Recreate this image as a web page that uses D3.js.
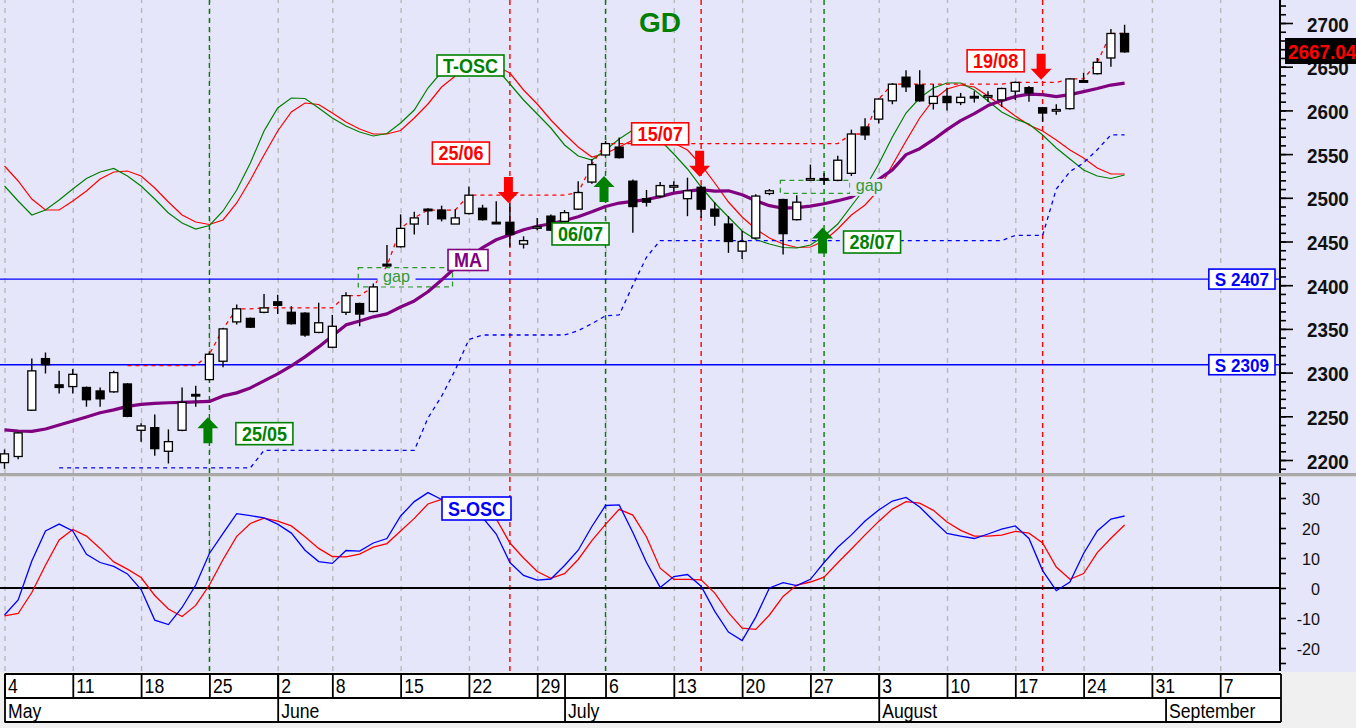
<!doctype html>
<html>
<head>
<meta charset="utf-8">
<style>
  body { margin: 0; background: #f0f0f0; }
  svg { display: block; font-family: "Liberation Sans", Arial, sans-serif; }
</style>
<script src="https://cdn.jsdelivr.net/npm/d3@7/dist/d3.min.js"></script>
</head>
<body>
<script>
// ---- data (trading days from 4 May, index 0) ----
var tickDays   = [0, 5, 10, 15, 20, 24, 29, 34, 39, 44, 49, 54, 59, 64, 69, 74, 79, 84, 89];
var tickLabels = ["4","11","18","25","2","8","15","22","29","6","13","20","27","3","10","17","24","31","7"];
var monthStart = [0, 20, 41, 64, 85];
var monthNames = ["May", "June", "July", "August", "September"];

var open = [2197,2204,2257,2316,2286,2284,2283,2279,2278,2287,
            2234,2237,2210,2234,2275,2292,2313,2358,2362,2369,
            2381,2369,2368,2346,2329,2369,2379,2370,2424,2444,
            2470,2487,2486,2470,2482,2488,2472,2472,2447,2466,
            2479,2473,2487,2518,2549,2558,2519,2499,2502,2514,
            2499,2512,2487,2470,2439,2454,2505,2498,2475,2521,
            2522,2520,2528,2581,2590,2611,2638,2629,2608,2616,
            2609,2616,2616,2612,2622,2626,2603,2600,2602,2634,
            2642,2660,2688];
var high = [2212,2232,2316,2323,2302,2304,2284,2283,2302,2288,
            2242,2252,2235,2283,2285,2323,2351,2378,2363,2390,
            2389,2376,2369,2380,2366,2392,2380,2402,2446,2481,
            2484,2488,2491,2487,2513,2492,2496,2494,2456,2477,
            2481,2486,2519,2544,2565,2569,2521,2509,2518,2519,
            2523,2514,2495,2479,2462,2504,2510,2499,2503,2538,
            2528,2548,2578,2591,2614,2631,2646,2646,2630,2626,
            2620,2622,2622,2626,2633,2628,2604,2607,2637,2643,
            2660,2693,2698];
var low  = [2190,2201,2256,2299,2276,2276,2261,2261,2277,2249,
            2221,2205,2196,2233,2261,2291,2306,2355,2351,2368,
            2367,2355,2341,2345,2328,2366,2353,2369,2421,2443,
            2458,2469,2473,2470,2481,2474,2470,2444,2442,2463,
            2462,2472,2486,2516,2548,2545,2460,2490,2500,2507,
            2479,2477,2468,2437,2430,2453,2503,2435,2474,2520,
            2515,2519,2525,2566,2585,2607,2621,2610,2601,2600,
            2606,2609,2610,2604,2612,2610,2587,2595,2601,2633,
            2641,2650,2666];
var close = [2207,2231,2302,2309,2283,2298,2269,2270,2300,2250,
            2239,2213,2221,2266,2274,2321,2350,2373,2352,2374,
            2377,2356,2343,2357,2353,2388,2367,2398,2422,2465,
            2477,2486,2476,2477,2503,2475,2471,2458,2451,2467,
            2463,2483,2506,2538,2562,2546,2490,2495,2514,2514,
            2508,2487,2479,2450,2450,2502,2508,2459,2495,2522,
            2521,2543,2573,2572,2613,2630,2627,2611,2616,2609,
            2615,2615,2617,2625,2632,2620,2597,2601,2636,2633,
            2655,2688,2667.04];

var ma = [2234.4,2233.2,2232.7,2235.5,2240,2244.7,2249.3,2254,2257.3,2261.3,
          2263.6,2264.7,2265.5,2266,2266.4,2267,2273.3,2276.8,2282.5,2290.5,
          2298.5,2307.7,2318,2329.4,2342,2354.6,2359,2363.8,2367.2,2375,
          2382,2392.5,2406,2420,2431.5,2443,2452,2457.7,2463.5,2467.5,
          2470.3,2474,2478.4,2484,2490,2494,2496,2498,2501.3,2505.3,
          2507.6,2509.3,2507.6,2508,2503.5,2496.7,2491,2488.1,2488.7,2490.4,
          2493.2,2496.7,2500.7,2510.4,2521,2532,2549.4,2556.2,2566.5,2578,
          2588.3,2596.3,2605.5,2611.2,2615.8,2618.7,2618,2615.8,2618,2621.5,
          2625,2629,2631.3];

// T-OSC (overlay on price panel, own scale)
var toscFast = [-26,-41,-55,-50,-40,-29,-18.5,-12,-8.5,-16,
                -26,-39,-53,-63,-69,-65.5,-51,-30,-3,29,
                52,62,61.5,52,42,34,28,24,26.5,37,
                50,72,88,98,102,100,92,76,60,46,
                32,15,4,0,10,21,30,29,20,6,
                -9,-27,-43,-57,-71,-79.5,-84,-87.5,-88,-85,
                -76,-64,-46,-28,-4,23,47,62,72,77,
                77,70,59,48,41,36,25,12,1,-10,
                -16,-18.5,-15];
var toscSlow = [-6,-21,-39,-50,-50,-41,-31,-19,-12,-11,
                -16,-28,-42,-55,-62,-64.5,-60,-43,-20,5,
                29,48,57,55.5,47,38,31,26,26,29.5,
                42,56,73,84,92,96,94,87,70,56,
                40,26,13,3,6.5,13,20,23,22,17,
                10,-5,-23,-42,-57,-69,-78,-84,-87.5,-87,
                -81,-69,-55,-45,-30,-5,19,42,60,71,
                75,73,64,54,44,35,29,20,10,2,
                -8,-14,-14];

// S-OSC (lower panel)
var soscFast = [-9,-4,9,19,21.3,19,11.2,8.5,7.2,4.7,
                -0.5,-10.7,-12.2,-6.5,1,11.5,18.2,24.8,24.1,23.4,
                21.3,18.3,12.6,8.8,8.2,12.5,12.3,15,16.5,24,
                28.8,31.8,29.5,27.5,25.5,23.5,18,8.5,4.2,2.6,
                3,7.5,12.6,20.5,27.5,27.7,18.5,8.5,0.2,3.8,
                4.5,0.6,-7.8,-14.7,-17.5,-9.7,0,1.8,0.8,2.9,
                8.5,13.6,17.7,22.3,26,29,30.2,27,22.5,18.2,
                17.3,16.5,18,19.6,20.7,16.5,5.8,-0.9,2,11.5,
                19,23,24];
var soscSlow = [-9.3,-8.5,-1.5,7.6,16,19.5,17.3,13.2,8.7,6.3,
                3.5,-2.5,-7,-9.5,-5.8,1,9.5,17.2,21.5,23.3,
                22.3,20.7,17.1,13.2,10.5,10.4,11.3,13.6,14.8,19,
                23.2,28,29.5,29,27.5,25.5,23,15,10,5.5,
                3.2,4.8,9.5,15.8,21.2,26.2,24.3,17,6.6,2.9,
                2.9,2.7,-1.7,-8.2,-13.4,-13.8,-9,-2.8,1,2,
                3.6,8.4,13,17.7,22.2,26.3,28.8,28.3,25.9,22,
                19.2,17.3,17.3,17.6,18.9,18.3,15,7,2.9,4.8,
                11.8,16.6,21];

// trailing support (blue dashed) and resistance (red dashed)
var support = [null,null,null,null,2191,2191,2191,2191,2191,2191,
               2191,2191,2191,2191,2191,2191,2191,2191,2191,2211,
               2211,2211,2211,2211,2211,2211,2211,2211,2211,2211,
               2211,2248,2273,2303,2338,2343,2343,2343,2343,2343,
               2343,2343,2348,2356,2365,2366,2400,2432,2451,2451,
               2451,2451,2451,2451,2451,2451,2451,2451,2451,2451,
               2451,2451,2451,2451,2451,2451,2451,2451,2451,2451,
               2451,2451,2451,2451,2457,2457,2457,2510,2530,2540,
               2555,2572,2572];
var resistance = [null,null,null,null,null,null,null,null,null,2308,
                  2308,2308,2308,2308,2308,2321,2350,2373,2373,2374,
                  2374,2374,2374,2374,2374,2388,2388,2398,2422,2465,
                  2477,2486,2486,2486,2503,2503,2503,2503,2503,2503,
                  2503,2503,2506,2538,2562,2562,2562,2562,2562,2562,
                  2562,2562,2562,2562,2562,2562,2562,2562,2562,2562,
                  2562,2562,2573,2573,2613,2630,2630,2630,2630,2630,
                  2630,2630,2630,2630,2632,2632,2632,2632,2636,2636,
                  2655,2688,2688];

var levels = [2407, 2309];
var lastPrice = 2667.04;

var signals = [
  {day: 15, kind: "buy",  text: "25/05"},
  {day: 37, kind: "sell", text: "25/06"},
  {day: 44, kind: "buy",  text: "06/07"},
  {day: 51, kind: "sell", text: "15/07"},
  {day: 60, kind: "buy",  text: "28/07"},
  {day: 76, kind: "sell", text: "19/08"}
];
var gaps = [
  {from: 25.9, to: 32.8, lo: 2398, hi: 2420, labelDay: 28.7},
  {from: 56.8, to: 61.9, lo: 2505, hi: 2520, labelDay: 63.3}
];

// ---- layout ----
var W = 1356, H = 728;
var axisX = 1280;
var mainBot = 473, lowTop = 477, lowBot = 671;
var BG = "#e6e6fa";
var GREEN = "#008000", RED = "#ff0000", BLUE = "#0000ff", PURPLE = "#800080";

// arrow tip level and label offset (px from arrow tip) for each signal
var arrowTip = [2249, 2494, 2525, 2524, 2466, 2635];
var labelOff = [[55, 16.5], [-49, -50], [-25, 58], [-41, -43], [48, 14.5], [-47, -19]];

var x  = d3.scaleLinear().domain([0, 89]).range([4.5, 1220.2]);
var yP = d3.scaleLinear().domain([2200, 2700]).range([460, 23]);
var yT = d3.scaleLinear().domain([-100, 100]).range([260, 60]);
var yS = d3.scaleLinear().domain([-20, 30]).range([648, 498]);

var days = d3.range(close.length);

var svg = d3.select("body").append("svg")
  .attr("width", W).attr("height", H);

svg.append("rect").attr("width", W).attr("height", H).attr("fill", "#f0f0f0");
svg.append("rect").attr("width", W).attr("height", lowBot + 1).attr("fill", BG);

var defs = svg.append("defs");
defs.append("clipPath").attr("id", "clipMain").append("rect")
  .attr("x", 0).attr("y", 0).attr("width", axisX).attr("height", mainBot);
defs.append("clipPath").attr("id", "clipLow").append("rect")
  .attr("x", 0).attr("y", lowTop).attr("width", axisX).attr("height", lowBot - lowTop);
defs.append("clipPath").attr("id", "clipAxMain").append("rect")
  .attr("x", -2).attr("y", 0).attr("width", 80).attr("height", mainBot);

// squeeze text horizontally (the reference type is a bit narrow)
function squeeze(sel, k) {
  sel.each(function() {
    var t = d3.select(this);
    var tx = +t.attr("x") || 0, ty = +t.attr("y") || 0;
    t.attr("x", 0).attr("y", 0).attr("dy", null)
      .attr("transform", "translate(" + tx + "," + ty + ") scale(" + k + ",1)");
  });
}

function boxLabel(parent, cx, cy, txt, color, size, h) {
  var g = parent.append("g");
  var rect = g.append("rect");
  var t = g.append("text")
    .attr("text-anchor", "middle")
    .attr("font-weight", "bold")
    .attr("font-size", size)
    .attr("fill", color)
    .attr("x", cx).attr("y", cy + size * 0.36)
    .text(txt);
  squeeze(t, 0.9);
  var w = t.node().getComputedTextLength() * 0.9 + 12;
  rect.attr("x", cx - w / 2).attr("y", cy - h / 2)
    .attr("width", w).attr("height", h)
    .attr("fill", "#fff").attr("stroke", color).attr("stroke-width", 1.6);
  return g;
}

// ---- gridlines (both panels) ----
function grid(g, top, bot) {
  g.append("g").attr("transform", "translate(0," + bot + ")")
    .call(d3.axisBottom(x).tickValues(tickDays).tickSize(-(bot - top)).tickFormat(""))
    .call(function(s) { s.select(".domain").remove(); })
    .selectAll("line")
    .attr("stroke", "#b8b8b8").attr("stroke-width", 1.4).attr("stroke-dasharray", "5,5");
}
function signalLines(g, top, bot) {
  g.selectAll("line.sig").data(signals).join("line")
    .attr("class", "sig")
    .attr("x1", function(d) { return x(d.day); }).attr("x2", function(d) { return x(d.day); })
    .attr("y1", top).attr("y2", bot)
    .attr("stroke", function(d) { return d.kind === "buy" ? GREEN : RED; })
    .attr("stroke-width", 1.4).attr("stroke-dasharray", "5,4");
}

var main = svg.append("g").attr("clip-path", "url(#clipMain)");
var lower = svg.append("g").attr("clip-path", "url(#clipLow)");

grid(main, 0, mainBot);
grid(lower, lowTop, lowBot);
signalLines(main, 0, mainBot);
signalLines(lower, lowTop, lowBot);

// support / resistance levels
main.selectAll("line.lvl").data(levels).join("line")
  .attr("class", "lvl")
  .attr("x1", 0).attr("x2", axisX)
  .attr("y1", function(d) { return yP(d); }).attr("y2", function(d) { return yP(d); })
  .attr("stroke", BLUE).attr("stroke-width", 1.3);

function path(arr, ys) {
  return d3.line()
    .defined(function(i) { return arr[i] != null; })
    .x(function(i) { return x(i); })
    .y(function(i) { return ys(arr[i]); })(days);
}

// T-OSC
main.append("path").attr("d", path(toscSlow, yT)).attr("fill", "none").attr("stroke", RED).attr("stroke-width", 1.2);
main.append("path").attr("d", path(toscFast, yT)).attr("fill", "none").attr("stroke", GREEN).attr("stroke-width", 1.2);

// trailing lines
main.append("path").attr("d", path(support, yP)).attr("fill", "none")
  .attr("stroke", BLUE).attr("stroke-width", 1.3).attr("stroke-dasharray", "4,4");
main.append("path").attr("d", path(resistance, yP)).attr("fill", "none")
  .attr("stroke", RED).attr("stroke-width", 1.3).attr("stroke-dasharray", "4,4");

// gap zones
main.selectAll("rect.gap").data(gaps).join("rect")
  .attr("class", "gap")
  .attr("x", function(d) { return x(d.from); })
  .attr("width", function(d) { return x(d.to) - x(d.from); })
  .attr("y", function(d) { return yP(d.hi); })
  .attr("height", function(d) { return yP(d.lo) - yP(d.hi); })
  .attr("fill", "none").attr("stroke", "#2e9a2e").attr("stroke-width", 1.3).attr("stroke-dasharray", "5,4");

// moving average
main.append("path").attr("d", path(ma, yP)).attr("fill", "none")
  .attr("stroke", PURPLE).attr("stroke-width", 3.2).attr("stroke-linejoin", "round");

// gap labels (background hides lines behind)
gaps.forEach(function(d) {
  var cx = x(d.labelDay), cy = (yP(d.hi) + yP(d.lo)) / 2;
  main.append("rect").attr("x", cx - 19).attr("y", cy - 8).attr("width", 38).attr("height", 17).attr("fill", BG);
  var t = main.append("text").attr("x", cx).attr("y", cy + 4.5)
    .attr("text-anchor", "middle").attr("font-size", 17).attr("fill", "#339933").text("gap");
  squeeze(t, 0.95);
});

// candles
var gC = main.append("g");
gC.selectAll("line").data(days).join("line")
  .attr("x1", function(i) { return x(i); }).attr("x2", function(i) { return x(i); })
  .attr("y1", function(i) { return yP(high[i]); }).attr("y2", function(i) { return yP(low[i]); })
  .attr("stroke", "#000").attr("stroke-width", 1.4);
gC.selectAll("rect").data(days).join("rect")
  .attr("x", function(i) { return x(i) - 4; }).attr("width", 8)
  .attr("y", function(i) { return yP(Math.max(open[i], close[i])); })
  .attr("height", function(i) { return Math.max(1.6, Math.abs(yP(open[i]) - yP(close[i]))); })
  .attr("fill", function(i) { return close[i] >= open[i] ? "#fff" : "#000"; })
  .attr("stroke", "#000").attr("stroke-width", 1.3);

// signal arrows + date labels
signals.forEach(function(s, k) {
  var cx = x(s.day) - 1.5, ty = yP(arrowTip[k]);
  var dir = s.kind === "buy" ? 1 : -1;   // buy: tip at top, body below
  var hw = 10.5, sw = 4.5, hh = 11 * dir, len = 26 * dir;
  var p = d3.path();
  p.moveTo(cx, ty);
  p.lineTo(cx + hw, ty + hh); p.lineTo(cx + sw, ty + hh); p.lineTo(cx + sw, ty + len);
  p.lineTo(cx - sw, ty + len); p.lineTo(cx - sw, ty + hh); p.lineTo(cx - hw, ty + hh);
  p.closePath();
  var col = s.kind === "buy" ? GREEN : RED;
  main.append("path").attr("d", p.toString()).attr("fill", col);
  boxLabel(main, cx + 1.5 + labelOff[k][0], ty + labelOff[k][1], s.text, col, 20, 22);
});

// indicator labels
boxLabel(main, 470.5, 65.5, "T-OSC", GREEN, 20, 21);
boxLabel(main, 468, 260, "MA", PURPLE, 20, 21);

// level labels
levels.forEach(function(v) {
  var g = boxLabel(svg, 0, yP(v), "S " + v, BLUE, 19, 20);
  var r = g.select("rect"), w = +r.attr("width");
  g.attr("transform", "translate(" + (1275 - w / 2) + ",0)");
});

// title
svg.append("text").attr("x", 660).attr("y", 32).attr("text-anchor", "middle")
  .attr("font-size", 28).attr("font-weight", "bold").attr("fill", GREEN).text("GD");

// ---- lower panel ----
lower.append("line").attr("x1", 0).attr("x2", axisX)
  .attr("y1", yS(0)).attr("y2", yS(0)).attr("stroke", "#000").attr("stroke-width", 2);
lower.append("path").attr("d", path(soscSlow, yS)).attr("fill", "none").attr("stroke", RED).attr("stroke-width", 1.3);
lower.append("path").attr("d", path(soscFast, yS)).attr("fill", "none").attr("stroke", BLUE).attr("stroke-width", 1.3);
boxLabel(lower, 476.5, 508.5, "S-OSC", BLUE, 20, 23);

// panel separator
svg.append("rect").attr("x", 0).attr("y", mainBot).attr("width", W).attr("height", 3).attr("fill", "#a9a9a9");
svg.append("line").attr("x1", 0).attr("x2", W).attr("y1", mainBot + 3.5).attr("y2", mainBot + 3.5)
  .attr("stroke", "#d8d8d8").attr("stroke-width", 1);

// ---- right axes ----
var gAx = svg.append("g").attr("transform", "translate(" + axisX + ",0)");
var gTicks = gAx.append("g").attr("clip-path", "url(#clipAxMain)");
gTicks.append("g").call(d3.axisRight(yP).tickValues(d3.range(2190, 2730, 10)).tickSize(6).tickFormat(""));
gTicks.append("g").call(d3.axisRight(yP).tickValues(d3.range(2200, 2701, 50)).tickSize(13).tickFormat(""));
var gMajorLab = gAx.append("g")
  .call(d3.axisRight(yP).tickValues(d3.range(2200, 2701, 50)).tickSize(0).tickPadding(27)
    .tickFormat(function(d) { return String(d); }));
gMajorLab.attr("font-size", 20).attr("font-weight", "bold").attr("font-family", null);
gMajorLab.selectAll("text").attr("fill", "#111").attr("y", 8);
squeeze(gMajorLab.selectAll("text"), 0.94);

var gLowAx = svg.append("g").attr("transform", "translate(" + axisX + ",0)");
gLowAx.append("g").call(d3.axisRight(yS).tickValues(d3.range(-25, 36, 5)).tickSize(6).tickFormat(""));
var gLowLab = gLowAx.append("g")
  .call(d3.axisRight(yS).tickValues(d3.range(-20, 31, 10)).tickSize(0).tickPadding(0)
    .tickFormat(function(d) { return String(d); }));
gLowLab.attr("font-size", 17).attr("font-family", null);
gLowLab.selectAll("text").attr("x", 40).attr("text-anchor", "end").attr("fill", "#111").attr("y", 6);
squeeze(gLowLab.selectAll("text"), 0.95);

[gAx, gLowAx].forEach(function(g) {
  g.selectAll(".domain").remove();
  g.selectAll(".tick line").attr("stroke", "#000").attr("stroke-width", 1.6);
});

svg.append("line").attr("x1", axisX).attr("x2", axisX).attr("y1", 0).attr("y2", mainBot)
  .attr("stroke", "#000").attr("stroke-width", 2);
svg.append("line").attr("x1", axisX).attr("x2", axisX).attr("y1", lowTop).attr("y2", lowBot)
  .attr("stroke", "#000").attr("stroke-width", 2);

// last price tag
svg.append("rect").attr("x", 1285).attr("y", 38).attr("width", 72).attr("height", 26).attr("fill", "#000");
var tag = svg.append("text").attr("x", 1288).attr("y", 58.5)
  .attr("font-size", 21).attr("font-weight", "bold").attr("fill", RED).text(lastPrice.toFixed(2));
squeeze(tag, 0.9);

// ---- date table ----
var tb = svg.append("g");
tb.append("rect").attr("x", 4.5).attr("y", 674).attr("width", 1281 - 4.5).attr("height", 48).attr("fill", "#fff");

var gDay = tb.append("g").attr("transform", "translate(0,674)")
  .call(d3.axisBottom(x).tickValues(tickDays).tickSize(24)
    .tickFormat(function(d, i) { return tickLabels[i]; }));
gDay.select(".domain").remove();
gDay.attr("font-size", 21).attr("font-family", null);
gDay.selectAll("text").attr("x", 3).attr("y", 19).attr("text-anchor", "start").attr("fill", "#000");
squeeze(gDay.selectAll("text"), 0.84);

var gMon = tb.append("g").attr("transform", "translate(0,698)")
  .call(d3.axisBottom(x).tickValues(monthStart).tickSize(24)
    .tickFormat(function(d, i) { return monthNames[i]; }));
gMon.select(".domain").remove();
gMon.attr("font-size", 21).attr("font-family", null);
gMon.selectAll("text").attr("x", 3).attr("y", 20).attr("text-anchor", "start").attr("fill", "#000");
squeeze(gMon.selectAll("text"), 0.84);
gMon.selectAll(".tick line").attr("y1", function(d) { return d <= close.length - 1 ? -24 : 0; });

tb.selectAll(".tick line").attr("stroke", "#000").attr("stroke-width", 1.8);
[674, 698, 722].forEach(function(yy) {
  tb.append("line").attr("x1", 4.5).attr("x2", 1281).attr("y1", yy).attr("y2", yy)
    .attr("stroke", "#000").attr("stroke-width", 1.8);
});
tb.append("line").attr("x1", 1281).attr("x2", 1281).attr("y1", 674).attr("y2", 722)
  .attr("stroke", "#000").attr("stroke-width", 1.8);
</script>
</body>
</html>
